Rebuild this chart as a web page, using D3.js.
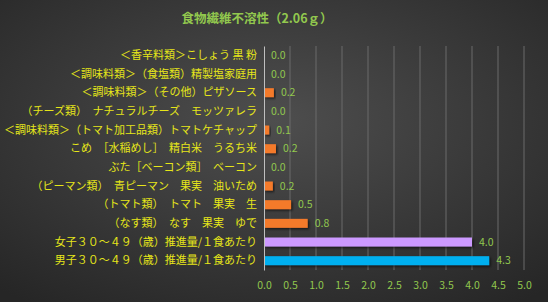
<!doctype html>
<html lang="ja">
<head>
<meta charset="utf-8">
<title></title>
<script src="https://d3js.org/d3.v7.min.js"></script>
<style type="text/css">
body { margin:0; overflow:hidden; }
text { font-family: "Noto Sans CJK JP", "Noto Sans", sans-serif; }
</style>
</head>
<body>
</body>
<script type="text/javascript">

  var title = "食物繊維不溶性（2.06ｇ）";

  var categories = [
    "＜香辛料類＞こしょう 黒 粉",
    "＜調味料類＞（食塩類）精製塩家庭用",
    "＜調味料類＞（その他）ピザソース",
    "（チーズ類）　ナチュラルチーズ　モッツァレラ",
    "＜調味料類＞（トマト加工品類）トマトケチャップ",
    "こめ　［水稲めし］　精白米　うるち米",
    "ぶた［ベーコン類］　ベーコン",
    "（ピーマン類）　青ピーマン　果実　油いため",
    "（トマト類）　トマト　果実　生",
    "（なす類）　なす　果実　ゆで",
    "女子３０～４９（歳）推進量/１食あたり",
    "男子３０～４９（歳）推進量/１食あたり"];

  var values = [0, 0, 0.19, 0, 0.1, 0.23, 0, 0.17, 0.52, 0.84, 4.0, 4.33];

  var barColors = ["#f47a2c", "#f47a2c", "#f47a2c", "#f47a2c", "#f47a2c", "#f47a2c",
                   "#f47a2c", "#f47a2c", "#f47a2c", "#f47a2c", "#cc99ff", "#00b0f0"];

  var xTicks = [0, 0.5, 1, 1.5, 2, 2.5, 3, 3.5, 4, 4.5, 5];

  var W = 548, H = 302;
  var margin = {top:46, bottom:32, left:264, right:24};

  var svg = d3.select("body")
    .append("svg")
    .attr("width", W)
    .attr("height", H);

  var defs = svg.append("defs");
  var grad = defs.append("radialGradient")
    .attr("id", "bg")
    .attr("cx", "50%").attr("cy", "40%").attr("r", "75%");
  grad.append("stop").attr("offset", "0%").attr("stop-color", "#4e4e4e");
  grad.append("stop").attr("offset", "100%").attr("stop-color", "#262626");

  var shadow = defs.append("filter").attr("id", "shadow")
    .attr("x", "-10%").attr("y", "-30%").attr("width", "130%").attr("height", "180%");
  shadow.append("feDropShadow")
    .attr("dx", 1.5).attr("dy", 1.5).attr("stdDeviation", 1)
    .attr("flood-color", "#000").attr("flood-opacity", 0.6);

  svg.append("rect")
    .attr("width", W).attr("height", H)
    .attr("fill", "url(#bg)");

  svg.append("text")
    .attr("x", 257).attr("y", 23)
    .attr("text-anchor", "middle")
    .attr("font-size", 12.5)
    .attr("font-weight", "bold")
    .attr("fill", "#92c84e")
    .text(title);

  var xScale = d3.scaleLinear()
    .domain([0, 5])
    .range([margin.left, W - margin.right]);

  var yScale = d3.scaleBand()
    .domain(categories)
    .range([margin.top, H - margin.bottom])
    .paddingInner(0.52)
    .paddingOuter(0.26);

  // gridlines
  svg.append("g")
    .selectAll("line")
    .data(xTicks.slice(1))
    .enter()
    .append("line")
    .attr("x1", d=>xScale(d)).attr("x2", d=>xScale(d))
    .attr("y1", margin.top).attr("y2", H - margin.bottom)
    .attr("stroke", "#6a6a6a")
    .attr("stroke-width", 1);

  // x axis labels
  var xAxis = svg.append("g")
    .attr("transform", "translate(0," + (H - margin.bottom) + ")")
    .call(d3.axisBottom(xScale).tickValues(xTicks).tickFormat(d3.format(".1f")).tickSize(0).tickPadding(12));
  xAxis.select(".domain").remove();
  xAxis.selectAll("text")
    .attr("font-size", 10.5)
    .attr("fill", "#92c84e");

  // bars
  svg.append("g")
    .selectAll("rect")
    .data(values)
    .enter()
    .append("rect")
    .attr("x", xScale(0))
    .attr("y", (d, i)=>yScale(categories[i]))
    .attr("width", d=>xScale(d) - xScale(0))
    .attr("height", yScale.bandwidth())
    .attr("fill", (d, i)=>barColors[i])
    .attr("filter", "url(#shadow)");

  // value labels
  svg.append("g")
    .selectAll("text")
    .data(values)
    .enter()
    .append("text")
    .attr("x", d=>xScale(d) + 7)
    .attr("y", (d, i)=>yScale(categories[i]) + yScale.bandwidth() / 2)
    .attr("dy", "0.35em")
    .attr("font-size", 10.5)
    .attr("fill", "#92c84e")
    .text(d=>d3.format(".1f")(d));

  // y axis
  var yAxis = svg.append("g")
    .attr("transform", "translate(" + margin.left + ",0)")
    .call(d3.axisLeft(yScale).tickSize(0).tickPadding(7));
  yAxis.select(".domain")
    .attr("stroke", "#bfbfbf");
  yAxis.selectAll("text")
    .attr("font-size", 11)
    .attr("fill", "#e6e619");

</script>
</html>
